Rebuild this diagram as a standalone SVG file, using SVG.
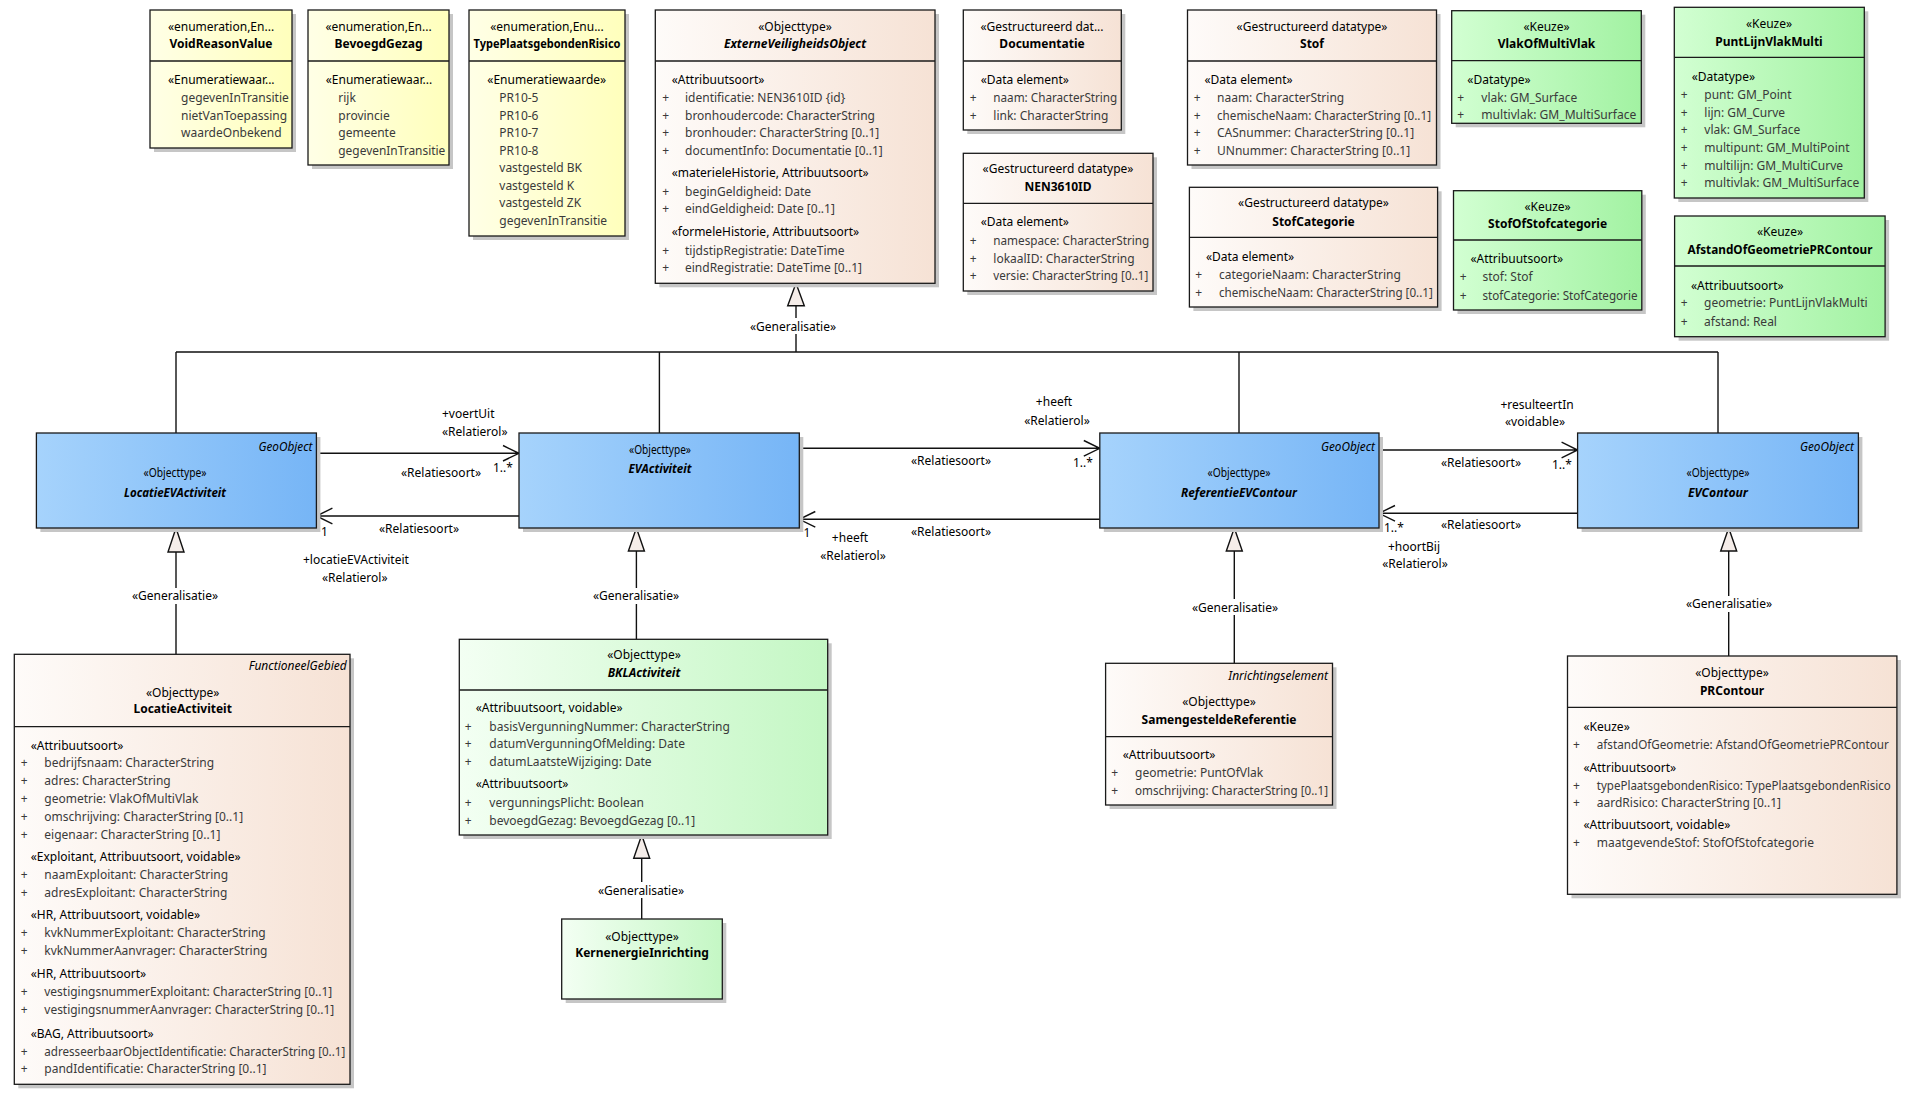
<svg xmlns="http://www.w3.org/2000/svg" width="1917" height="1103" viewBox="0 0 1917 1103">
<style>
text{font-family:"Noto Sans","Open Sans","Liberation Sans",sans-serif;font-size:12px;fill:#000}
.it{fill:#3a3a3a}
.b{font-weight:bold}
.bi{font-weight:bold;font-style:italic}
.i{font-style:italic}
.m{text-anchor:middle}
.e{text-anchor:end}
.bx{stroke:#1a1a1a;stroke-width:1.3}
.sh{fill:#c6c6c6}
.dv{stroke:#1a1a1a;stroke-width:1.3}
.ln{stroke:#111;stroke-width:1.4;fill:none}
.tri{fill:#f5ede9;stroke:#111;stroke-width:1.4}
.lbg{fill:#fff}
</style>
<defs>
<linearGradient id="gY" x1="0" y1="0" x2="1" y2="0"><stop offset="0" stop-color="#FFFFE6"/><stop offset="1" stop-color="#FFFFBC"/></linearGradient>
<linearGradient id="gO" x1="0" y1="0" x2="1" y2="0"><stop offset="0" stop-color="#FEFBF9"/><stop offset="1" stop-color="#F6E2D5"/></linearGradient>
<linearGradient id="gBl" x1="0" y1="0" x2="1" y2="0"><stop offset="0" stop-color="#A6D3FC"/><stop offset="1" stop-color="#76B5F6"/></linearGradient>
<linearGradient id="gK" x1="0" y1="0" x2="1" y2="0"><stop offset="0" stop-color="#D2FFD2"/><stop offset="1" stop-color="#A2F2A2"/></linearGradient>
<linearGradient id="gG" x1="0" y1="0" x2="1" y2="0"><stop offset="0" stop-color="#F3FFF3"/><stop offset="1" stop-color="#C4F7C4"/></linearGradient>
</defs>
<rect width="1917" height="1103" fill="#fff"/>

<g id="connectors">
<!-- generalisation tree to ExterneVeiligheidsObject -->
<path class="ln" d="M796 305.7V352M176 352H1718M176 352V433M659.4 352V433M1239 352V433M1718 352V433"/>
<polygon class="tri" points="796,283.3 787.7,305.7 804.3,305.7"/>
<rect class="lbg" x="748" y="318" width="90" height="16"/>
<text class="m" x="793" y="331">«Generalisatie»</text>
<!-- LocatieEVActiviteit <- LocatieActiviteit -->
<path class="ln" d="M176 552V654.3"/>
<polygon class="tri" points="176,528 168,552 184,552"/>
<rect class="lbg" x="130" y="588" width="90" height="16"/>
<text class="m" x="175" y="600">«Generalisatie»</text>
<!-- EVActiviteit <- BKLActiviteit -->
<path class="ln" d="M636.4 551V639.3"/>
<polygon class="tri" points="636.4,528 628.4,551 644.4,551"/>
<rect class="lbg" x="591" y="588" width="90" height="16"/>
<text class="m" x="636" y="600">«Generalisatie»</text>
<!-- BKLActiviteit <- KernenergieInrichting -->
<path class="ln" d="M641.7 858.3V919"/>
<polygon class="tri" points="641.7,835 633.7,858.3 649.7,858.3"/>
<rect class="lbg" x="596" y="882" width="90" height="16"/>
<text class="m" x="641" y="895">«Generalisatie»</text>
<!-- ReferentieEVContour <- SamengesteldeReferentie -->
<path class="ln" d="M1234.3 551V663.3"/>
<polygon class="tri" points="1234.3,528 1226.3,551 1242.3,551"/>
<rect class="lbg" x="1190" y="599" width="90" height="16"/>
<text class="m" x="1235" y="612">«Generalisatie»</text>
<!-- EVContour <- PRContour -->
<path class="ln" d="M1728.7 551V656"/>
<polygon class="tri" points="1728.7,528 1720.7,551 1736.7,551"/>
<rect class="lbg" x="1684" y="596" width="90" height="16"/>
<text class="m" x="1729" y="608">«Generalisatie»</text>

<!-- A1 LocatieEVActiviteit -> EVActiviteit -->
<path class="ln" d="M316.4 453.3H519M503 445.5L519 453.3L503 461"/>
<text x="442" y="418">+voertUit</text>
<text x="442" y="436">«Relatierol»</text>
<text x="401" y="477">«Relatiesoort»</text>
<text x="493" y="472">1..*</text>
<!-- A2 EVActiviteit -> LocatieEVActiviteit -->
<path class="ln" d="M519 516H316.4M332.4 508.2L316.4 516L332.4 523.8"/>
<text x="379" y="533">«Relatiesoort»</text>
<text x="321" y="536">1</text>
<text x="303" y="564">+locatieEVActiviteit</text>
<text x="322" y="582">«Relatierol»</text>
<!-- A3 EVActiviteit -> ReferentieEVContour -->
<path class="ln" d="M799.3 448.3H1099.8M1083.8 440.5L1099.8 448.3L1083.8 456.1"/>
<text class="m" x="1054" y="406">+heeft</text>
<text class="m" x="1057" y="425">«Relatierol»</text>
<text class="m" x="951" y="465">«Relatiesoort»</text>
<text x="1073" y="467">1..*</text>
<!-- A4 ReferentieEVContour -> EVActiviteit -->
<path class="ln" d="M1099.8 519.3H799.3M815.3 511.5L799.3 519.3L815.3 527.1"/>
<text class="m" x="951" y="536">«Relatiesoort»</text>
<text class="m" x="807" y="537">1</text>
<text class="m" x="850" y="542">+heeft</text>
<text class="m" x="853" y="560">«Relatierol»</text>
<!-- A5 ReferentieEVContour -> EVContour -->
<path class="ln" d="M1379 450H1577.6M1561.6 442.2L1577.6 450L1561.6 457.8"/>
<text class="m" x="1537" y="409">+resulteertIn</text>
<text class="m" x="1535" y="426">«voidable»</text>
<text class="m" x="1481" y="467">«Relatiesoort»</text>
<text x="1552" y="469">1..*</text>
<!-- A6 EVContour -> ReferentieEVContour -->
<path class="ln" d="M1577.6 513.3H1379M1395 505.5L1379 513.3L1395 521.1"/>
<text class="m" x="1481" y="529">«Relatiesoort»</text>
<text x="1384" y="532">1..*</text>
<text class="m" x="1414" y="551">+hoortBij</text>
<text class="m" x="1415" y="568">«Relatierol»</text>
</g>

<g id="VoidReasonValue">
<rect class="sh" x="154" y="14" width="142" height="138"/>
<rect class="bx" x="150" y="10" width="142" height="138" fill="url(#gY)"/>
<line class="dv" x1="150" y1="61" x2="292" y2="61"/>
<text class="m" x="221" y="31">«enumeration,En...</text>
<text class="m b" x="221" y="48">VoidReasonValue</text>
<text x="168" y="84">«Enumeratiewaar...</text>
<text class="it" x="181" y="102">gegevenInTransitie</text>
<text class="it" x="181" y="119.5">nietVanToepassing</text>
<text class="it" x="181" y="137">waardeOnbekend</text>
</g>

<g id="BevoegdGezag">
<rect class="sh" x="312" y="14" width="141" height="155"/>
<rect class="bx" x="308" y="10" width="141" height="155" fill="url(#gY)"/>
<line class="dv" x1="308" y1="61" x2="449" y2="61"/>
<text class="m" x="378.5" y="31">«enumeration,En...</text>
<text class="m b" x="378.5" y="48">BevoegdGezag</text>
<text x="325.7" y="84">«Enumeratiewaar...</text>
<text class="it" x="338.3" y="102">rijk</text>
<text class="it" x="338.3" y="119.5">provincie</text>
<text class="it" x="338.3" y="137">gemeente</text>
<text class="it" x="338.3" y="155" textLength="107" lengthAdjust="spacingAndGlyphs">gegevenInTransitie</text>
</g>

<g id="TypePlaatsgebondenRisico">
<rect class="sh" x="473" y="14" width="156" height="226"/>
<rect class="bx" x="469" y="10" width="156" height="226" fill="url(#gY)"/>
<line class="dv" x1="469" y1="61" x2="625" y2="61"/>
<text class="m" x="547" y="31">«enumeration,Enu...</text>
<text class="m b" x="547" y="48" textLength="147" lengthAdjust="spacingAndGlyphs">TypePlaatsgebondenRisico</text>
<text x="487.3" y="84">«Enumeratiewaarde»</text>
<text class="it" x="499.3" y="102">PR10-5</text>
<text class="it" x="499.3" y="119.5">PR10-6</text>
<text class="it" x="499.3" y="137">PR10-7</text>
<text class="it" x="499.3" y="155">PR10-8</text>
<text class="it" x="499.3" y="172.3">vastgesteld BK</text>
<text class="it" x="499.3" y="189.7">vastgesteld K</text>
<text class="it" x="499.3" y="207.3">vastgesteld ZK</text>
<text class="it" x="499.3" y="225">gegevenInTransitie</text>
</g>

<g id="ExterneVeiligheidsObject">
<rect class="sh" x="659.3" y="14" width="279.7" height="273.3"/>
<rect class="bx" x="655.3" y="10" width="279.7" height="273.3" fill="url(#gO)"/>
<line class="dv" x1="655.3" y1="61" x2="935" y2="61"/>
<text class="m" x="795" y="31">«Objecttype»</text>
<text class="m bi" x="795" y="48">ExterneVeiligheidsObject</text>
<text x="671.7" y="84">«Attribuutsoort»</text>
<text class="it m" x="665.7" y="102">+</text><text class="it" x="685" y="102">identificatie: NEN3610ID {id}</text>
<text class="it m" x="665.7" y="119.5">+</text><text class="it" x="685" y="119.5">bronhoudercode: CharacterString</text>
<text class="it m" x="665.7" y="137">+</text><text class="it" x="685" y="137">bronhouder: CharacterString [0..1]</text>
<text class="it m" x="665.7" y="155">+</text><text class="it" x="685" y="155">documentInfo: Documentatie [0..1]</text>
<text x="671.7" y="177.3">«materieleHistorie, Attribuutsoort»</text>
<text class="it m" x="665.7" y="195.7">+</text><text class="it" x="685" y="195.7">beginGeldigheid: Date</text>
<text class="it m" x="665.7" y="213.3">+</text><text class="it" x="685" y="213.3">eindGeldigheid: Date [0..1]</text>
<text x="671.7" y="236.3">«formeleHistorie, Attribuutsoort»</text>
<text class="it m" x="665.7" y="254.7">+</text><text class="it" x="685" y="254.7">tijdstipRegistratie: DateTime</text>
<text class="it m" x="665.7" y="271.7">+</text><text class="it" x="685" y="271.7">eindRegistratie: DateTime [0..1]</text>
</g>

<g id="Documentatie">
<rect class="sh" x="967.3" y="14" width="158" height="120"/>
<rect class="bx" x="963.3" y="10" width="158" height="120" fill="url(#gO)"/>
<line class="dv" x1="963.3" y1="61" x2="1121.3" y2="61"/>
<text class="m" x="1042" y="31">«Gestructureerd dat...</text>
<text class="m b" x="1042" y="48">Documentatie</text>
<text x="980.7" y="84">«Data element»</text>
<text class="it m" x="973.3" y="102">+</text><text class="it" x="993.3" y="102" textLength="124" lengthAdjust="spacingAndGlyphs">naam: CharacterString</text>
<text class="it m" x="973.3" y="119.5">+</text><text class="it" x="993.3" y="119.5">link: CharacterString</text>
</g>

<g id="NEN3610ID">
<rect class="sh" x="967.3" y="157.3" width="189.7" height="137.7"/>
<rect class="bx" x="963.3" y="153.3" width="189.7" height="137.7" fill="url(#gO)"/>
<line class="dv" x1="963.3" y1="203.3" x2="1153" y2="203.3"/>
<text class="m" x="1058" y="173.3">«Gestructureerd datatype»</text>
<text class="m b" x="1058" y="191.3">NEN3610ID</text>
<text x="980.7" y="226.3">«Data element»</text>
<text class="it m" x="973.3" y="244.7">+</text><text class="it" x="993.3" y="244.7" textLength="156" lengthAdjust="spacingAndGlyphs">namespace: CharacterString</text>
<text class="it m" x="973.3" y="262.7">+</text><text class="it" x="993.3" y="262.7">lokaalID: CharacterString</text>
<text class="it m" x="973.3" y="279.7">+</text><text class="it" x="993.3" y="279.7" textLength="155" lengthAdjust="spacingAndGlyphs">versie: CharacterString [0..1]</text>
</g>

<g id="Stof">
<rect class="sh" x="1191.5" y="14" width="249" height="155"/>
<rect class="bx" x="1187.5" y="10" width="249" height="155" fill="url(#gO)"/>
<line class="dv" x1="1187.5" y1="61" x2="1436.5" y2="61"/>
<text class="m" x="1312" y="31">«Gestructureerd datatype»</text>
<text class="m b" x="1312" y="48">Stof</text>
<text x="1204.4" y="84">«Data element»</text>
<text class="it m" x="1197.2" y="102">+</text><text class="it" x="1217" y="102">naam: CharacterString</text>
<text class="it m" x="1197.2" y="119.5">+</text><text class="it" x="1217" y="119.5" textLength="214" lengthAdjust="spacingAndGlyphs">chemischeNaam: CharacterString [0..1]</text>
<text class="it m" x="1197.2" y="137">+</text><text class="it" x="1217" y="137">CASnummer: CharacterString [0..1]</text>
<text class="it m" x="1197.2" y="155">+</text><text class="it" x="1217" y="155">UNnummer: CharacterString [0..1]</text>
</g>

<g id="StofCategorie">
<rect class="sh" x="1193.4" y="191.3" width="248.2" height="119.7"/>
<rect class="bx" x="1189.4" y="187.3" width="248.2" height="119.7" fill="url(#gO)"/>
<line class="dv" x1="1189.4" y1="237.3" x2="1437.6" y2="237.3"/>
<text class="m" x="1313.5" y="207.3">«Gestructureerd datatype»</text>
<text class="m b" x="1313.5" y="225.7">StofCategorie</text>
<text x="1205.9" y="260.7">«Data element»</text>
<text class="it m" x="1198.6" y="279">+</text><text class="it" x="1218.9" y="279">categorieNaam: CharacterString</text>
<text class="it m" x="1198.6" y="296.7">+</text><text class="it" x="1218.9" y="296.7" textLength="214" lengthAdjust="spacingAndGlyphs">chemischeNaam: CharacterString [0..1]</text>
</g>

<g id="VlakOfMultiVlak">
<rect class="sh" x="1455.7" y="14.7" width="189.6" height="112.6"/>
<rect class="bx" x="1451.7" y="10.7" width="189.6" height="112.6" fill="url(#gK)"/>
<line class="dv" x1="1451.7" y1="60.7" x2="1641.3" y2="60.7"/>
<text class="m" x="1546.5" y="30.7">«Keuze»</text>
<text class="m b" x="1546.5" y="48.3">VlakOfMultiVlak</text>
<text x="1467.3" y="84">«Datatype»</text>
<text class="it m" x="1460.7" y="102">+</text><text class="it" x="1481.3" y="102">vlak: GM_Surface</text>
<text class="it m" x="1460.7" y="119">+</text><text class="it" x="1481.3" y="119" textLength="155" lengthAdjust="spacingAndGlyphs">multivlak: GM_MultiSurface</text>
</g>

<g id="PuntLijnVlakMulti">
<rect class="sh" x="1678.3" y="11.3" width="190" height="190.7"/>
<rect class="bx" x="1674.3" y="7.3" width="190" height="190.7" fill="url(#gK)"/>
<line class="dv" x1="1674.3" y1="57.3" x2="1864.3" y2="57.3"/>
<text class="m" x="1769" y="28">«Keuze»</text>
<text class="m b" x="1769" y="45.7">PuntLijnVlakMulti</text>
<text x="1691.7" y="80.7">«Datatype»</text>
<text class="it m" x="1684.3" y="99">+</text><text class="it" x="1704.3" y="99">punt: GM_Point</text>
<text class="it m" x="1684.3" y="116.7">+</text><text class="it" x="1704.3" y="116.7">lijn: GM_Curve</text>
<text class="it m" x="1684.3" y="134">+</text><text class="it" x="1704.3" y="134">vlak: GM_Surface</text>
<text class="it m" x="1684.3" y="151.7">+</text><text class="it" x="1704.3" y="151.7">multipunt: GM_MultiPoint</text>
<text class="it m" x="1684.3" y="169.7">+</text><text class="it" x="1704.3" y="169.7">multilijn: GM_MultiCurve</text>
<text class="it m" x="1684.3" y="187.3">+</text><text class="it" x="1704.3" y="187.3" textLength="155" lengthAdjust="spacingAndGlyphs">multivlak: GM_MultiSurface</text>
</g>

<g id="StofOfStofcategorie">
<rect class="sh" x="1457.5" y="194.7" width="188.3" height="119.3"/>
<rect class="bx" x="1453.5" y="190.7" width="188.3" height="119.3" fill="url(#gK)"/>
<line class="dv" x1="1453.5" y1="240" x2="1641.8" y2="240"/>
<text class="m" x="1547.6" y="210.7">«Keuze»</text>
<text class="m b" x="1547.6" y="228.3">StofOfStofcategorie</text>
<text x="1470.4" y="263.3">«Attribuutsoort»</text>
<text class="it m" x="1463.2" y="281.3">+</text><text class="it" x="1482.5" y="281.3">stof: Stof</text>
<text class="it m" x="1463.2" y="299.7">+</text><text class="it" x="1482.5" y="299.7" textLength="155" lengthAdjust="spacingAndGlyphs">stofCategorie: StofCategorie</text>
</g>

<g id="AfstandOfGeometriePRContour">
<rect class="sh" x="1678.6" y="220" width="210.5" height="120.7"/>
<rect class="bx" x="1674.6" y="216" width="210.5" height="120.7" fill="url(#gK)"/>
<line class="dv" x1="1674.6" y1="266" x2="1885.1" y2="266"/>
<text class="m" x="1780" y="236.3">«Keuze»</text>
<text class="m b" x="1780" y="254" textLength="185" lengthAdjust="spacingAndGlyphs">AfstandOfGeometriePRContour</text>
<text x="1691" y="289.7">«Attribuutsoort»</text>
<text class="it m" x="1684.3" y="307.3">+</text><text class="it" x="1704.1" y="307.3">geometrie: PuntLijnVlakMulti</text>
<text class="it m" x="1684.3" y="325.7">+</text><text class="it" x="1704.1" y="325.7">afstand: Real</text>
</g>

<g id="LocatieEVActiviteit">
<rect class="sh" x="40.4" y="437" width="280" height="95"/>
<rect class="bx" x="36.4" y="433" width="280" height="95" fill="url(#gBl)"/>
<text class="i e" x="312.5" y="450.7" textLength="54" lengthAdjust="spacingAndGlyphs">GeoObject</text>
<text class="m" x="175" y="477" textLength="63" lengthAdjust="spacingAndGlyphs">«Objecttype»</text>
<text class="m bi" x="175" y="497" textLength="102" lengthAdjust="spacingAndGlyphs">LocatieEVActiviteit</text>
</g>

<g id="EVActiviteit">
<rect class="sh" x="523" y="437" width="280.3" height="95"/>
<rect class="bx" x="519" y="433" width="280.3" height="95" fill="url(#gBl)"/>
<text class="m" x="660" y="454" textLength="62" lengthAdjust="spacingAndGlyphs">«Objecttype»</text>
<text class="m bi" x="660" y="473" textLength="63" lengthAdjust="spacingAndGlyphs">EVActiviteit</text>
</g>

<g id="ReferentieEVContour">
<rect class="sh" x="1103.8" y="437" width="279.2" height="95"/>
<rect class="bx" x="1099.8" y="433" width="279.2" height="95" fill="url(#gBl)"/>
<text class="i e" x="1375" y="450.7" textLength="54" lengthAdjust="spacingAndGlyphs">GeoObject</text>
<text class="m" x="1239" y="477" textLength="63" lengthAdjust="spacingAndGlyphs">«Objecttype»</text>
<text class="m bi" x="1239" y="497" textLength="116" lengthAdjust="spacingAndGlyphs">ReferentieEVContour</text>
</g>

<g id="EVContour">
<rect class="sh" x="1581.6" y="437" width="280.8" height="95"/>
<rect class="bx" x="1577.6" y="433" width="280.8" height="95" fill="url(#gBl)"/>
<text class="i e" x="1854" y="450.7" textLength="54" lengthAdjust="spacingAndGlyphs">GeoObject</text>
<text class="m" x="1718" y="477" textLength="63" lengthAdjust="spacingAndGlyphs">«Objecttype»</text>
<text class="m bi" x="1718" y="497" textLength="60" lengthAdjust="spacingAndGlyphs">EVContour</text>
</g>

<g id="LocatieActiviteit">
<rect class="sh" x="18.3" y="658.3" width="335.7" height="430"/>
<rect class="bx" x="14.3" y="654.3" width="335.7" height="430" fill="url(#gO)"/>
<line class="dv" x1="14.3" y1="726.7" x2="350" y2="726.7"/>
<text class="i e" x="346.7" y="670">FunctioneelGebied</text>
<text class="m" x="182.7" y="696.7">«Objecttype»</text>
<text class="m b" x="182.7" y="713.3">LocatieActiviteit</text>
<text x="30.7" y="749.7">«Attribuutsoort»</text>
<text class="it m" x="24.3" y="767.3">+</text><text class="it" x="44.3" y="767.3">bedrijfsnaam: CharacterString</text>
<text class="it m" x="24.3" y="785">+</text><text class="it" x="44.3" y="785">adres: CharacterString</text>
<text class="it m" x="24.3" y="802.7">+</text><text class="it" x="44.3" y="802.7">geometrie: VlakOfMultiVlak</text>
<text class="it m" x="24.3" y="820.7">+</text><text class="it" x="44.3" y="820.7">omschrijving: CharacterString [0..1]</text>
<text class="it m" x="24.3" y="838.7">+</text><text class="it" x="44.3" y="838.7">eigenaar: CharacterString [0..1]</text>
<text x="30.7" y="861.3">«Exploitant, Attribuutsoort, voidable»</text>
<text class="it m" x="24.3" y="879.3">+</text><text class="it" x="44.3" y="879.3">naamExploitant: CharacterString</text>
<text class="it m" x="24.3" y="896.7">+</text><text class="it" x="44.3" y="896.7">adresExploitant: CharacterString</text>
<text x="30.7" y="919.3">«HR, Attribuutsoort, voidable»</text>
<text class="it m" x="24.3" y="937.3">+</text><text class="it" x="44.3" y="937.3">kvkNummerExploitant: CharacterString</text>
<text class="it m" x="24.3" y="955.3">+</text><text class="it" x="44.3" y="955.3">kvkNummerAanvrager: CharacterString</text>
<text x="30.7" y="978.3">«HR, Attribuutsoort»</text>
<text class="it m" x="24.3" y="996.3">+</text><text class="it" x="44.3" y="996.3" textLength="288" lengthAdjust="spacingAndGlyphs">vestigingsnummerExploitant: CharacterString [0..1]</text>
<text class="it m" x="24.3" y="1014.3">+</text><text class="it" x="44.3" y="1014.3" textLength="290" lengthAdjust="spacingAndGlyphs">vestigingsnummerAanvrager: CharacterString [0..1]</text>
<text x="30.7" y="1037.7">«BAG, Attribuutsoort»</text>
<text class="it m" x="24.3" y="1056">+</text><text class="it" x="44.3" y="1056" textLength="301" lengthAdjust="spacingAndGlyphs">adresseerbaarObjectIdentificatie: CharacterString [0..1]</text>
<text class="it m" x="24.3" y="1073">+</text><text class="it" x="44.3" y="1073">pandIdentificatie: CharacterString [0..1]</text>
</g>

<g id="BKLActiviteit">
<rect class="sh" x="463.3" y="643.3" width="368.4" height="195.7"/>
<rect class="bx" x="459.3" y="639.3" width="368.4" height="195.7" fill="url(#gG)"/>
<line class="dv" x1="459.3" y1="690" x2="827.7" y2="690"/>
<text class="m" x="644" y="659.3">«Objecttype»</text>
<text class="m bi" x="644" y="677.3">BKLActiviteit</text>
<text x="475.7" y="712.3">«Attribuutsoort, voidable»</text>
<text class="it m" x="468.3" y="730.7">+</text><text class="it" x="489.3" y="730.7">basisVergunningNummer: CharacterString</text>
<text class="it m" x="468.3" y="748.3">+</text><text class="it" x="489.3" y="748.3">datumVergunningOfMelding: Date</text>
<text class="it m" x="468.3" y="765.7">+</text><text class="it" x="489.3" y="765.7">datumLaatsteWijziging: Date</text>
<text x="475.7" y="788.3">«Attribuutsoort»</text>
<text class="it m" x="468.3" y="806.7">+</text><text class="it" x="489.3" y="806.7">vergunningsPlicht: Boolean</text>
<text class="it m" x="468.3" y="824.7">+</text><text class="it" x="489.3" y="824.7">bevoegdGezag: BevoegdGezag [0..1]</text>
</g>

<g id="KernenergieInrichting">
<rect class="sh" x="565.7" y="923" width="160.6" height="80"/>
<rect class="bx" x="561.7" y="919" width="160.6" height="80" fill="url(#gG)"/>
<text class="m" x="642" y="940.7">«Objecttype»</text>
<text class="m b" x="642" y="956.7">KernenergieInrichting</text>
</g>

<g id="SamengesteldeReferentie">
<rect class="sh" x="1109.6" y="667.3" width="226.9" height="141.7"/>
<rect class="bx" x="1105.6" y="663.3" width="226.9" height="141.7" fill="url(#gO)"/>
<line class="dv" x1="1105.6" y1="736.7" x2="1332.5" y2="736.7"/>
<text class="i e" x="1328" y="679.7">Inrichtingselement</text>
<text class="m" x="1219" y="705.7">«Objecttype»</text>
<text class="m b" x="1219" y="724">SamengesteldeReferentie</text>
<text x="1122.7" y="759">«Attribuutsoort»</text>
<text class="it m" x="1114.7" y="776.7">+</text><text class="it" x="1135" y="776.7">geometrie: PuntOfVlak</text>
<text class="it m" x="1114.7" y="795">+</text><text class="it" x="1135" y="795" textLength="193" lengthAdjust="spacingAndGlyphs">omschrijving: CharacterString [0..1]</text>
</g>

<g id="PRContour">
<rect class="sh" x="1571.5" y="660" width="329.4" height="238.3"/>
<rect class="bx" x="1567.5" y="656" width="329.4" height="238.3" fill="url(#gO)"/>
<line class="dv" x1="1567.5" y1="707.3" x2="1896.9" y2="707.3"/>
<text class="m" x="1732" y="677.3">«Objecttype»</text>
<text class="m b" x="1732" y="694.7">PRContour</text>
<text x="1583.5" y="730.7">«Keuze»</text>
<text class="it m" x="1576.5" y="749">+</text><text class="it" x="1596.8" y="749" textLength="292" lengthAdjust="spacingAndGlyphs">afstandOfGeometrie: AfstandOfGeometriePRContour</text>
<text x="1583.5" y="771.7">«Attribuutsoort»</text>
<text class="it m" x="1576.5" y="789.7">+</text><text class="it" x="1596.8" y="789.7" textLength="294" lengthAdjust="spacingAndGlyphs">typePlaatsgebondenRisico: TypePlaatsgebondenRisico</text>
<text class="it m" x="1576.5" y="807.3">+</text><text class="it" x="1596.8" y="807.3">aardRisico: CharacterString [0..1]</text>
<text x="1583.5" y="829">«Attribuutsoort, voidable»</text>
<text class="it m" x="1576.5" y="847.3">+</text><text class="it" x="1596.8" y="847.3">maatgevendeStof: StofOfStofcategorie</text>
</g>
</svg>
